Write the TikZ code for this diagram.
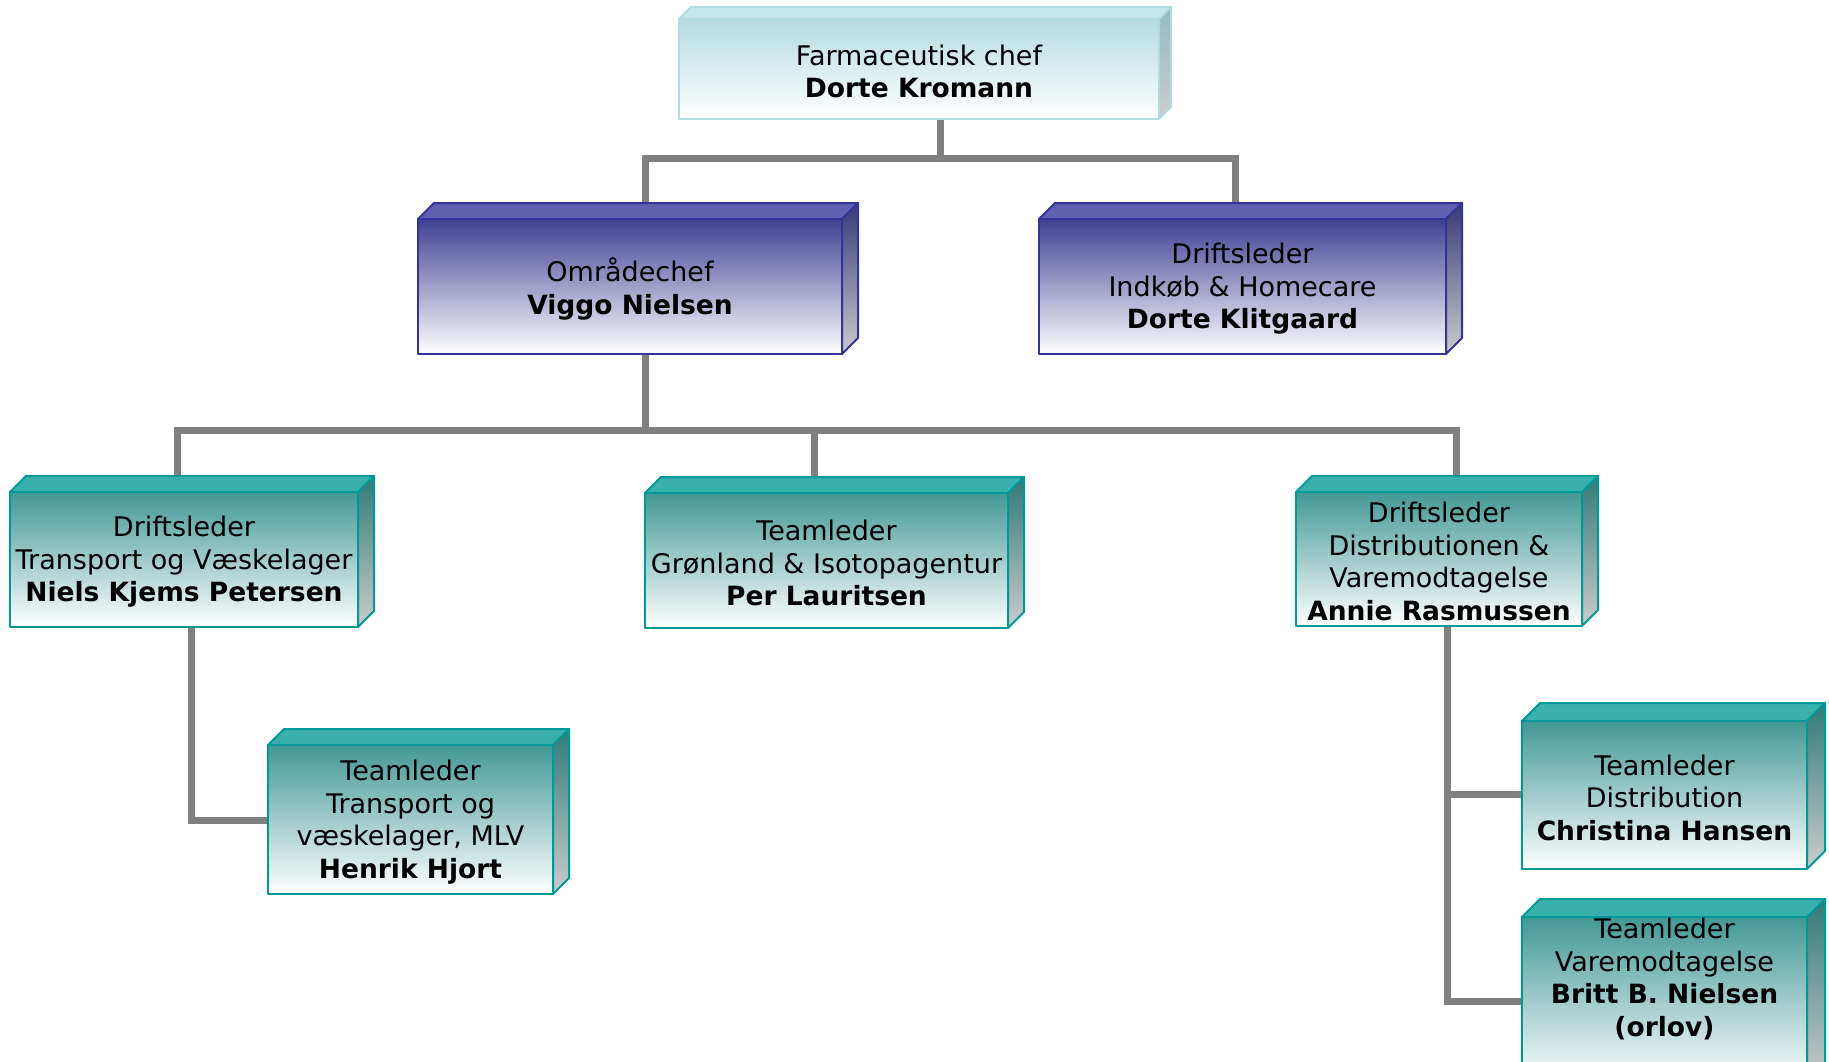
\documentclass[tikz,border=0pt]{standalone}
\usepackage{fontspec}
\setmainfont{DejaVu Sans}
\pgfdeclarelayer{bg}
\pgfsetlayers{bg,main}
\definecolor{tealB}{RGB}{0,153,153}
\definecolor{tealTop}{RGB}{58,176,174}
\definecolor{tealFront}{RGB}{66,152,150}
\definecolor{tealSide}{RGB}{48,122,120}
\definecolor{sideBot}{RGB}{204,204,204}
\definecolor{navyB}{RGB}{51,51,153}
\definecolor{navyTop}{RGB}{96,96,176}
\definecolor{navyFront}{RGB}{64,64,148}
\definecolor{navySide}{RGB}{56,56,120}
\definecolor{cyanB}{RGB}{176,220,224}
\definecolor{cyanTop}{RGB}{196,230,232}
\definecolor{cyanFront}{RGB}{180,220,224}
\definecolor{cyanSide}{RGB}{150,186,190}
\definecolor{connGray}{RGB}{128,128,128}
\newcommand\nm[1]{{\fontsize{26.5}{32.5}\selectfont\bfseries #1}}
\tikzset{
  facebase/.style={line width=2pt, line join=round},
  teal top/.style={facebase, fill=tealTop, draw=tealB},
  teal side/.style={facebase, top color=tealSide, bottom color=sideBot, draw=tealB},
  teal front/.style={facebase, top color=tealFront, bottom color=white, draw=tealB},
  navy top/.style={facebase, fill=navyTop, draw=navyB},
  navy side/.style={facebase, top color=navySide, bottom color=sideBot, draw=navyB},
  navy front/.style={facebase, top color=navyFront, bottom color=white, draw=navyB},
  cyan top/.style={facebase, fill=cyanTop, draw=cyanB},
  cyan side/.style={facebase, top color=cyanSide, bottom color=sideBot, draw=cyanB},
  cyan front/.style={facebase, top color=cyanFront, bottom color=white, draw=cyanB},
  boxtext/.style={align=center, font=\fontsize{27}{32.5}\selectfont, inner sep=0pt, outer sep=0pt},
  conn/.style={draw=connGray, line width=7pt, line join=miter, line cap=butt}
}
\newcommand\orgcube[8]{%
  \filldraw[#2 top] (#3,#4) -- ({#3+#7},{#4-#7}) -- ({#5+#7},{#4-#7}) -- (#5,#4) -- cycle;
  \filldraw[#2 side] (#5,#4) -- ({#5+#7},{#4-#7}) -- ({#5+#7},{#6-#7}) -- (#5,#6) -- cycle;
  \node[#2 front, inner sep=0pt, outer sep=0pt, anchor=north west, minimum width={(#5-#3)*1pt}, minimum height={(#6-#4)*1pt}] (#1) at (#3,#4) {};
  \node[boxtext] (#1-text) at ([yshift=-2.5pt]#1.center) {#8};
}
\begin{document}
\begin{tikzpicture}[x=1pt,y=-1pt]
\useasboundingbox (0,0) rectangle (1829,1062);

\orgcube{top}{cyan}{679}{19}{1159}{119}{12}{Farmaceutisk chef\\\nm{Dorte Kromann}}
\orgcube{viggo}{navy}{418}{219}{842}{354}{16}{Områdechef\\\nm{Viggo Nielsen}}
\orgcube{indk}{navy}{1039}{219}{1446}{354}{16}{Driftsleder\\Indkøb \& Homecare\\\nm{Dorte Klitgaard}}
\orgcube{niels}{teal}{10}{492}{358}{627}{16}{Driftsleder\\Transport og Væskelager\\\nm{Niels Kjems Petersen}}
\orgcube{gron}{teal}{645}{493}{1008}{628}{16}{Teamleder\\Grønland \& Isotopagentur\\\nm{Per Lauritsen}}
\orgcube{annie}{teal}{1296}{492}{1582}{626}{16}{Driftsleder\\Distributionen \&\\Varemodtagelse\\\nm{Annie Rasmussen}}
\orgcube{henrik}{teal}{268}{745}{553}{894}{16}{Teamleder\\Transport og\\væskelager, MLV\\\nm{Henrik Hjort}}
\orgcube{christina}{teal}{1522}{721}{1807}{869}{18}{Teamleder\\Distribution\\\nm{Christina Hansen}}
\filldraw[teal top] (1522,917) -- (1540,899) -- (1825,899) -- (1807,917) -- cycle;
\filldraw[teal side] (1807,917) -- (1825,899) -- (1825,1067) -- (1807,1085) -- cycle;
\node[teal front, inner sep=0pt, outer sep=0pt, anchor=north west, minimum width=285pt, minimum height=168pt] (britt) at (1522,917) {};
\node[boxtext] (britt-text) at (1664.5,979) {Teamleder\\Varemodtagelse\\\nm{Britt B. Nielsen}\\\nm{(orlov)}};

\begin{pgfonlayer}{bg}
\coordinate (j1) at (940,158.5);
\coordinate (j1l) at (645,158.5);
\coordinate (j1r) at (1235,158.5);
\draw[conn] (top.south -| j1) -- (j1);
\draw[conn] (viggo.north -| j1l) -- (j1l) -- (j1r) -- (indk.north -| j1r);
\coordinate (j2) at (645,430.5);
\coordinate (j2l) at (177.5,430.5);
\coordinate (j2m) at (814.5,430.5);
\coordinate (j2r) at (1456.5,430.5);
\draw[conn] (viggo.south -| j2) -- (j2);
\draw[conn] (niels.north -| j2l) -- (j2l) -- (j2r) -- (annie.north -| j2r);
\draw[conn] (j2m) -- (gron.north -| j2m);
\coordinate (j3) at (191.5,820);
\draw[conn] (niels.south -| j3) -- (j3) -- (henrik.west |- j3);
\coordinate (j4) at (1447,1001);
\coordinate (j4a) at (1447,794);
\draw[conn] (annie.south -| j4) -- (j4) -- (britt.west |- j4);
\draw[conn] (j4a) -- (christina.west |- j4a);
\end{pgfonlayer}
\end{tikzpicture}
\end{document}
